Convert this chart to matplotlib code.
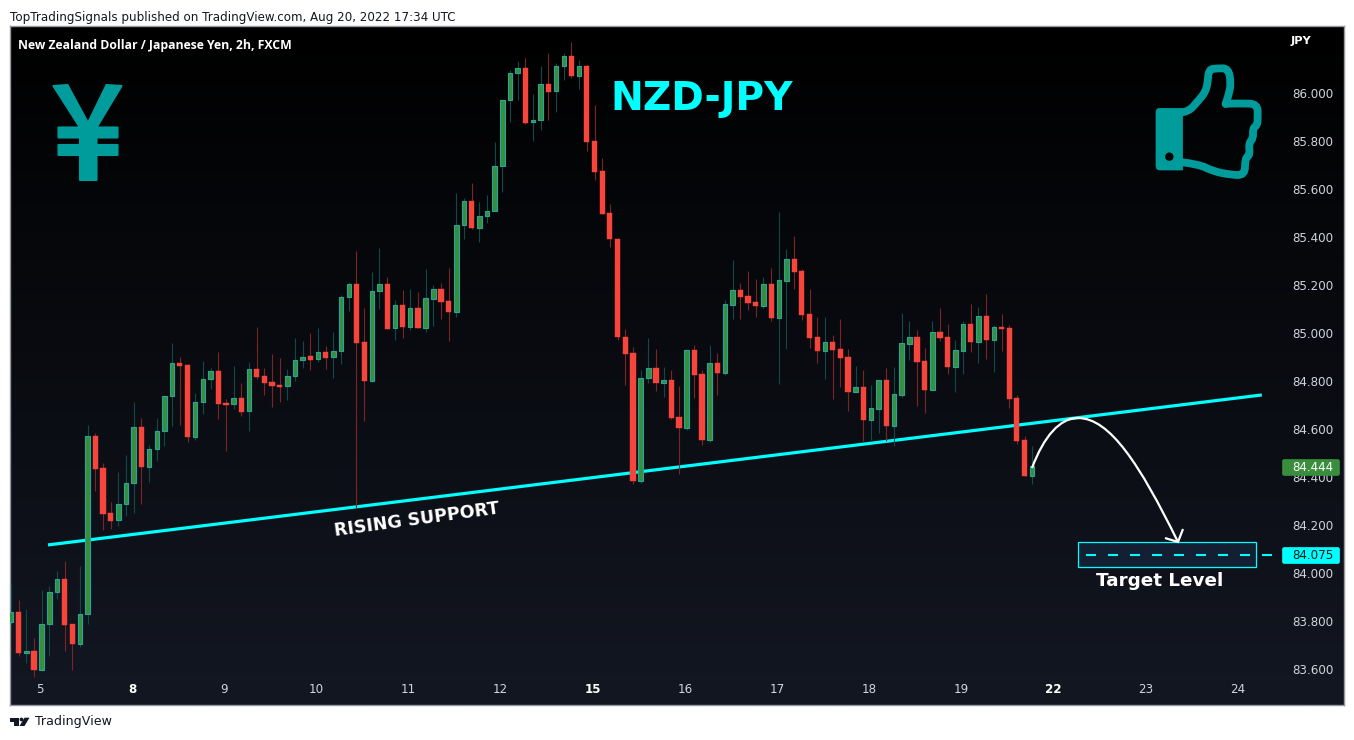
import numpy as np
import matplotlib
matplotlib.use("Agg")
import matplotlib.pyplot as plt
from matplotlib.path import Path
from matplotlib.patches import PathPatch, Rectangle, FancyBboxPatch, Circle, Polygon
from matplotlib.transforms import Affine2D

W, H = 1354, 740

# (open, high, low, close)
opens = [83.793,83.835,83.666,83.673,83.596,83.784,83.918,83.972,83.784,83.704,83.826,84.569,84.435,84.248,84.218,84.285,84.373,84.607,84.440,84.515,84.590,84.736,84.874,84.865,84.568,84.711,84.807,84.840,84.707,84.703,84.728,84.673,84.849,84.819,84.794,84.782,84.778,84.819,84.886,84.903,84.890,84.920,84.899,84.924,85.149,
 85.204,84.961,84.801,85.174,85.204,85.020,85.116,85.027,85.103,85.023,85.144,85.183,85.133,85.089,85.450,85.550,85.440,85.487,85.508,85.696,85.971,86.084,86.105,85.880,85.888,86.038,86.009,86.113,86.155,86.074,86.113,85.800,85.675,85.500,85.391,84.982,84.915,84.384,84.811,84.853,84.790,84.803,84.648,84.605,
 84.928,84.828,84.555,84.874,84.835,85.119,85.178,85.153,85.128,85.115,85.204,85.065,85.219,85.308,85.258,85.078,84.982,84.927,84.961,84.932,84.899,84.755,84.774,84.639,84.685,84.803,84.614,84.743,84.956,84.982,84.882,84.764,85.003,84.982,84.860,84.927,85.037,84.964,85.070,84.973,85.024,85.020,84.728,84.552,84.405]
closes = [83.835,83.666,83.673,83.595,83.784,83.918,83.972,83.783,83.704,83.826,84.569,84.434,84.246,84.217,84.285,84.373,84.607,84.440,84.515,84.590,84.736,84.874,84.864,84.568,84.711,84.807,84.840,84.705,84.701,84.728,84.672,84.849,84.818,84.793,84.781,84.776,84.819,84.886,84.902,84.889,84.920,84.897,84.924,85.149,85.204,
 84.960,84.801,85.174,85.204,85.018,85.116,85.027,85.103,85.023,85.145,85.183,85.131,85.089,85.450,85.550,85.440,85.487,85.508,85.696,85.971,86.084,86.105,85.878,85.888,86.038,86.008,86.113,86.155,86.074,86.113,85.799,85.674,85.498,85.391,84.982,84.914,84.384,84.811,84.853,84.790,84.803,84.647,84.605,84.928,
 84.826,84.555,84.874,84.835,85.120,85.178,85.152,85.127,85.115,85.204,85.065,85.220,85.308,85.256,85.077,84.981,84.927,84.961,84.931,84.897,84.755,84.774,84.639,84.686,84.803,84.614,84.745,84.957,84.982,84.881,84.764,85.003,84.981,84.860,84.928,85.037,84.964,85.070,84.973,85.024,85.019,84.726,84.551,84.405,84.444]
highs = [83.956,83.886,83.848,83.727,83.928,83.944,84.007,84.049,83.784,84.028,84.616,84.583,84.458,84.295,84.420,84.491,84.712,84.646,84.531,84.646,84.736,84.959,84.900,84.870,84.749,84.883,84.856,84.921,84.725,84.863,84.792,84.879,85.025,84.856,84.913,84.896,84.850,84.979,84.967,85.000,85.021,84.946,85.004,85.159,85.213,
 85.343,85.105,85.255,85.355,85.234,85.138,85.180,85.184,85.173,85.268,85.201,85.209,85.272,85.583,85.564,85.626,85.547,85.576,85.798,85.976,86.098,86.136,86.148,85.998,86.115,86.169,86.127,86.168,86.215,86.140,86.120,85.952,85.731,85.539,85.397,85.017,84.942,84.846,84.980,84.934,84.859,84.846,84.779,84.930,
 84.950,84.846,84.950,84.917,85.138,85.305,85.208,85.259,85.226,85.234,85.270,85.505,85.350,85.405,85.268,85.184,85.067,85.067,84.992,85.057,84.934,84.863,84.846,84.782,84.803,84.854,84.859,85.084,85.051,85.013,84.938,85.051,85.106,85.038,84.971,85.051,85.121,85.109,85.163,85.034,85.080,85.034,84.742,84.571,84.529]
lows = [83.780,83.654,83.624,83.566,83.591,83.654,83.890,83.675,83.595,83.691,83.787,84.342,84.180,84.184,84.196,84.238,84.250,84.288,84.380,84.467,84.530,84.614,84.618,84.547,84.555,84.664,84.768,84.643,84.509,84.685,84.655,84.593,84.810,84.743,84.693,84.714,84.722,84.801,84.856,84.847,84.881,84.851,84.814,84.872,85.094,
 84.269,84.635,84.795,85.099,85.018,84.971,84.981,85.014,85.023,85.006,85.030,85.059,84.968,85.069,85.393,85.436,85.380,85.461,85.508,85.589,85.881,85.973,85.874,85.803,85.848,85.889,85.924,86.056,86.065,86.019,85.761,85.639,85.498,85.361,84.971,84.785,84.372,84.376,84.790,84.760,84.735,84.643,84.413,84.596,
 84.730,84.534,84.547,84.743,84.825,85.060,85.060,85.098,85.069,85.106,85.052,84.789,84.935,85.185,85.056,84.939,84.877,84.810,84.726,84.776,84.676,84.755,84.551,84.555,84.584,84.551,84.530,84.735,84.889,84.697,84.668,84.764,84.968,84.831,84.755,84.831,84.923,84.877,84.893,84.839,84.927,84.689,84.539,84.405,84.372]

day_ticks = [3.79 + 12 * k for k in range(14)]
day_labels = ["5", "8", "9", "10", "11", "12", "15", "16", "17", "18", "19", "22", "23", "24"]
bold_days = {"8", "15", "22"}
price_ticks = [83.6, 83.8, 84.0, 84.2, 84.4, 84.6, 84.8, 85.0, 85.2, 85.4, 85.6, 85.8, 86.0]

last_price = 84.444
target_price = 84.075
support_x = [4.83, 162.9]
support_y = [84.116, 84.742]
target_box = (138.95, 162.1, 84.024, 84.128)

UP_BODY, UP_EDGE, UP_WICK = "#388e3c", "#26a69a", "#0e4a48"
DN_BODY, DN_WICK = "#f8453c", "#7c2526"
CYAN = "#00ffff"
TEAL = "#009c9c"
AXTXT = "#d1d4dc"

fig = plt.figure(figsize=(W / 100, H / 100), dpi=100, facecolor="white")
px = Affine2D().scale(1, -1).translate(0, H)  # pixel coordinates from the top-left, for decoration
ax = fig.add_axes([10 / W, (H - 705) / H, 1334 / W, 679 / H])

# Background gradient
grad = np.linspace(0, 1, 256).reshape(-1, 1)
base0, base1 = np.array([0, 0, 0]), np.array([0x13, 0x17, 0x22]) / 255
ax.imshow(base0 + grad[..., None] * (base1 - base0), origin="upper", aspect="auto",
          extent=[-0.117, 173.6, 83.448, 86.2817], zorder=0)
ax.set_xlim(-0.117, 173.6)
ax.set_ylim(83.448, 86.2817)

for s in ax.spines.values():
    s.set_color("#9598a1")
    s.set_linewidth(1.0)

# Trend line below candles
ax.plot(support_x, support_y, color=CYAN, lw=2.3, solid_capstyle="butt", zorder=2)

# Candles
o, h, l, c = map(np.array, (opens, highs, lows, closes))
idx = np.arange(len(o))
up = c >= o
ax.vlines(idx[up], l[up], h[up], color=UP_WICK, lw=0.8, zorder=3)
ax.vlines(idx[~up], l[~up], h[~up], color=DN_WICK, lw=0.8, zorder=3)
ax.bar(idx[up], (c - o)[up], bottom=o[up], width=0.59, color=UP_BODY, edgecolor=UP_EDGE, linewidth=0.8, zorder=4)
ax.bar(idx[~up], (c - o)[~up], bottom=o[~up], width=0.68, color=DN_BODY, edgecolor=DN_BODY, linewidth=0.3, zorder=4)

# Axis ticks, drawn inside the panel
ax.set_xticks(day_ticks)
ax.set_xticklabels(day_labels)
ax.yaxis.tick_right()
ax.set_yticks(price_ticks)
ax.set_yticklabels([f"{p:.3f}" for p in price_ticks])
ax.tick_params(axis="x", length=0, pad=-15.7, labelsize=8.6, colors=AXTXT)
ax.tick_params(axis="y", length=0, pad=-37.6, labelsize=8.6, colors=AXTXT)
for t in ax.get_xticklabels():
    t.set_color("#ffffff" if t.get_text() in bold_days else AXTXT)
    t.set_fontweight("bold" if t.get_text() in bold_days else "normal")

# Target box
x0, x1, y0, y1 = target_box
ax.add_patch(Rectangle((x0, y0), x1 - x0, y1 - y0, facecolor="#131f33", edgecolor=CYAN, lw=0.9, zorder=5))
ax.plot([140.0, 164.2], [target_price] * 2, color=CYAN, lw=1.5, dashes=(4.8, 5.76), zorder=6)
ax.text(149.6, 83.965, "Target Level", color="white", fontsize=13.2, fontweight="bold", ha="center", va="center", zorder=6)

# Price tags
def tag(py, col):
    ax.add_patch(FancyBboxPatch((1282.5, py - 8), 57, 16, boxstyle="round,pad=0,rounding_size=2",
                                facecolor=col, edgecolor=col, lw=0.5, transform=px, zorder=7))
tag(467.5, "#388e3c")
tag(555.5, CYAN)
ax.text(1292, 467.5, f"{last_price:.3f}", color="#ffffff", fontsize=8.6, va="center", transform=px, zorder=8)
ax.text(1292, 555.5, f"{target_price:.3f}", color="#0b1a1a", fontsize=8.6, va="center", transform=px, zorder=8)

# Texts
ax.text(610, 99, "NZD-JPY", color=CYAN, fontsize=28.3, fontweight="bold", va="center", ha="left", transform=px, zorder=8)
ax.text(416.5, 520, "RISING SUPPORT", color="white", fontsize=12.6, fontweight="bold", rotation=7.8,
        rotation_mode="anchor", ha="center", va="center", transform=px, zorder=8)
ax.text(18, 45, "New Zealand Dollar / Japanese Yen, 2h, FXCM", color="white", fontsize=8.8, fontweight="bold",
        family="Open Sans", va="center", transform=px, zorder=8)
ax.text(1291, 41, "JPY", color="white", fontsize=8.2, fontweight="bold", va="center", transform=px, zorder=8)
fig.text(10 / W, 1 - 17.5 / H, "TopTradingSignals published on TradingView.com, Aug 20, 2022 17:34 UTC",
         color="#131722", fontsize=8.52, va="center")
fig.text(35 / W, 1 - 722 / H, "TradingView", color="#131722", fontsize=9.1, va="center")

# Footer logo
LOGO = "#131722"
fig.add_artist(Polygon([(10, 717.7), (18.5, 717.7), (18.5, 726), (14, 726), (14, 721.5), (10, 721.5)], closed=True,
                       facecolor=LOGO, edgecolor="none", transform=px))
fig.add_artist(Circle((21.5, 719.5), 1.9, facecolor=LOGO, edgecolor="none", transform=px))
fig.add_artist(Polygon([(24.5, 717.7), (29.5, 717.7), (24.5, 726), (19.5, 726)], closed=True,
                       facecolor=LOGO, edgecolor="none", transform=px))

# Curved arrow
M, C4, LN = Path.MOVETO, Path.CURVE4, Path.LINETO
arc = Path([(1032, 468), (1044, 436), (1060, 418), (1078, 418),
            (1110, 418), (1140, 465), (1177.5, 541)], [M, C4, C4, C4, C4, C4, C4])
ax.add_patch(PathPatch(arc, facecolor="none", edgecolor="white", lw=1.6, transform=px, zorder=9))
ax.add_patch(PathPatch(Path([(1165, 538), (1178, 542), (1183, 529)], [M, LN, LN]), facecolor="none", edgecolor="white",
                       lw=1.6, transform=px, zorder=9))

# Yen icon
yen = [(53.5, 86), (67.5, 85), (88, 123), (106.5, 85), (121.5, 86), (96.5, 127.5), (117.5, 127.5), (117.5, 137.5), (96.5, 137.5),
       (96.5, 145), (117.5, 145), (117.5, 155), (96.5, 155), (96.5, 180), (80, 180), (80, 155), (58.5, 155),
       (58.5, 145), (80, 145), (80, 137.5), (58.5, 137.5), (58.5, 127.5), (80, 127.5)]
ax.add_patch(Polygon(yen, closed=True, facecolor=TEAL, edgecolor=TEAL, lw=1.5, joinstyle="round", transform=px, zorder=8))

# Thumb icon (points from a 3x crop with origin 1130,30)
def z(a, b):
    return (1130 + a / 3, 30 + b / 3)

def smooth(points):
    """Open quadratic spline through the midpoints of the given control points."""
    verts, codes = [points[0]], [Path.MOVETO]
    for a, b in zip(points[1:-1], points[2:]):
        mid = ((a[0] + b[0]) / 2, (a[1] + b[1]) / 2)
        verts += [a, mid]
        codes += [Path.CURVE3, Path.CURVE3]
    verts[-1] = points[-1]
    return Path(verts, codes)

cuff = Path([z(90, 235), z(158, 235), z(158, 420), z(90, 420), z(78, 420), z(78, 408), z(78, 247), z(78, 235), z(90, 235),
             z(90, 235)],
            [M, LN, LN, LN, Path.CURVE3, Path.CURVE3, LN, Path.CURVE3, Path.CURVE3, Path.CLOSEPOLY])
ax.add_patch(PathPatch(cuff, facecolor=TEAL, edgecolor=TEAL, lw=0.5, transform=px, zorder=8))
ax.add_patch(Circle(z(118, 380), 4.2, facecolor="#020305", edgecolor="none", transform=px, zorder=9))
hand = [z(150, 248), z(175, 246), z(205, 212), z(225, 188), z(233, 160), z(236, 118), z(262, 115), z(295, 115),
        z(303, 160), z(296, 195), z(287, 222)]
ax.add_patch(PathPatch(smooth(hand), facecolor="none", edgecolor=TEAL, lw=5.6, capstyle="round", transform=px, zorder=8))
hand2 = [z(287, 221), z(335, 220), z(383, 222), z(383, 265), z(382, 285), z(368, 295), z(370, 325), z(356, 340),
         z(360, 375), z(345, 385), z(345, 436), z(300, 434), z(250, 424), z(205, 402), z(150, 396)]
ax.add_patch(PathPatch(smooth(hand2), facecolor="none", edgecolor=TEAL, lw=5.6, capstyle="round", transform=px, zorder=8))

fig.savefig("out.png", dpi=100, facecolor="white")
